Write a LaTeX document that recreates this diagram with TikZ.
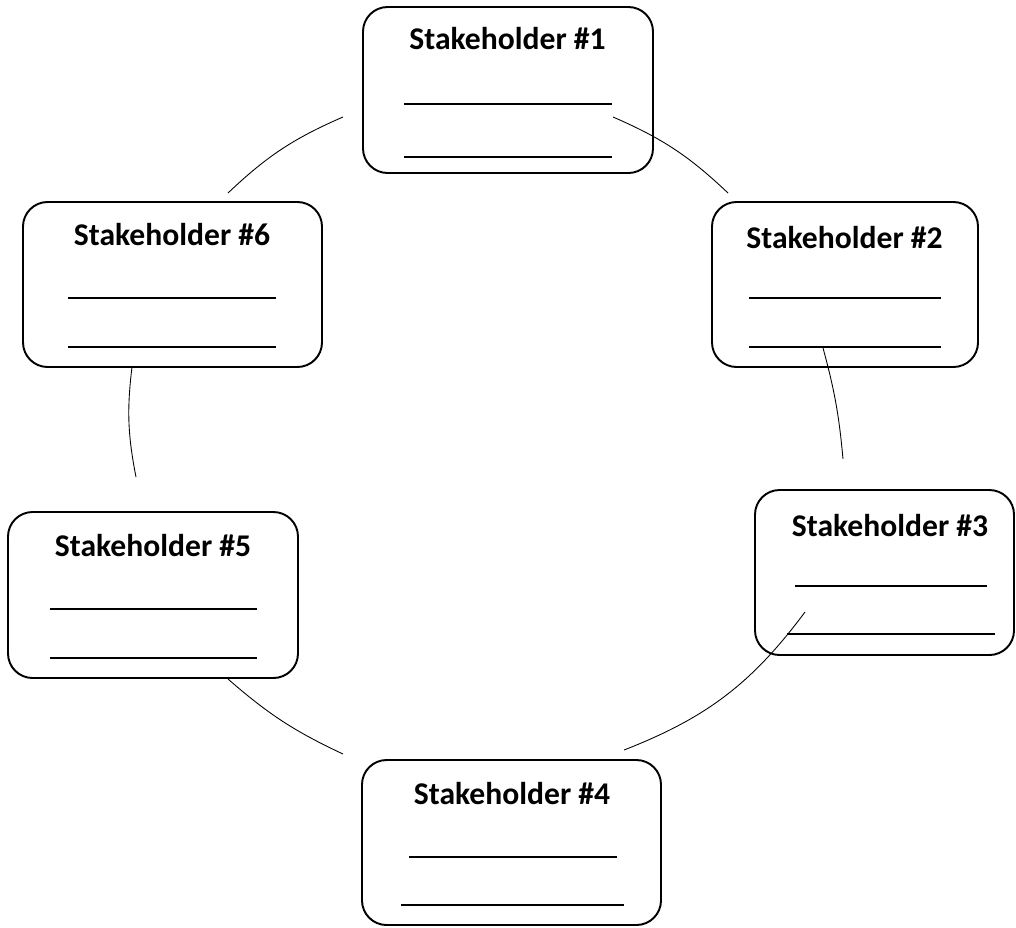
\documentclass[tikz,border=0pt]{standalone}
\usepackage{fontspec}
\setmainfont{Carlito}
\usetikzlibrary{fit}
\tikzset{
  box/.style={draw, line width=1.1pt, rounded corners=14pt, inner sep=0pt},
  title/.style={anchor=base, inner sep=0pt, font=\bfseries\fontsize{18}{22}\selectfont},
  blank/.style={line width=0.8pt},
  link/.style={line width=0.5pt},
}
\begin{document}
\begin{tikzpicture}[x=0.02cm, y=-0.02cm]
\useasboundingbox (0,0) rectangle (1016,927);
% boxes
\node[box, fit={(363,7) (653,173)}] (b1) {};
\node[box, fit={(712,202) (978,367)}] (b2) {};
\node[box, fit={(755,490) (1014,655)}] (b3) {};
\node[box, fit={(362,760) (661,925)}] (b4) {};
\node[box, fit={(8,512) (298,678)}] (b5) {};
\node[box, fit={(23,202) (322,367)}] (b6) {};
% titles
\node[title] (t1) at (507.5,49) {Stakeholder \#1};
\node[title] (t2) at (844.5,248) {Stakeholder \#2};
\node[title] (t3) at (890,536) {Stakeholder \#3};
\node[title] (t4) at (512,804) {Stakeholder \#4};
\node[title] (t5) at (153,556) {Stakeholder \#5};
\node[title] (t6) at (172,245) {Stakeholder \#6};
% blank lines
\draw[blank] (404,104) -- (612,104);
\draw[blank] (404,157) -- (612,157);
\draw[blank] (749,298) -- (941,298);
\draw[blank] (749,347) -- (941,347);
\draw[blank] (795,586) -- (987,586);
\draw[blank] (787,634) -- (995,634);
\draw[blank] (409,857) -- (617,857);
\draw[blank] (401,905) -- (624,905);
\draw[blank] (50,609) -- (257,609);
\draw[blank] (50,658) -- (257,658);
\draw[blank] (68,298) -- (276,298);
\draw[blank] (68,347) -- (276,347);
% arc end points
\coordinate (c61a) at (228,193);
\coordinate (c61b) at (343,117);
\coordinate (c12a) at (613,117);
\coordinate (c12b) at (728,193);
\coordinate (c23a) at (823,348);
\coordinate (c23b) at (843,459);
\coordinate (c34a) at (805,612);
\coordinate (c34b) at (624,750);
\coordinate (c45a) at (343,754);
\coordinate (c45b) at (228,679);
\coordinate (c56a) at (136,477);
\coordinate (c56b) at (132,367);
% arcs
\draw[link] (c61a) to[bend left=10] (c61b);
\draw[link] (c12a) to[bend left=10] (c12b);
\draw[link] (c23a) to[bend left=5] (c23b);
\draw[link] (c34a) to[bend left=16] (c34b);
\draw[link] (c45a) to[bend left=8] (c45b);
\draw[link] (c56a) to[bend left=9] (c56b);
\end{tikzpicture}
\end{document}
